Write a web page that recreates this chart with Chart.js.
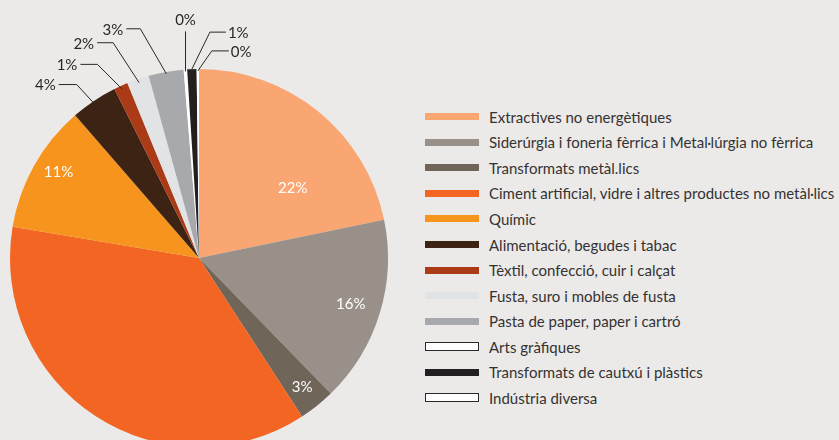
<!DOCTYPE html>
<html>
<head>
<meta charset="utf-8">
<title>Sectors</title>
<script src="https://cdn.jsdelivr.net/npm/chart.js"></script>
<style>
    body { margin: 0; background: #ebeae8; width: 839px; height: 440px; overflow: hidden; position: relative; font-family: Lato, sans-serif; }
    #pie-wrap { position: absolute; left: 0; top: 0; width: 420px; height: 500px; }
    #legend { position: absolute; left: 425px; top: 104px; list-style: none; margin: 0; padding: 0; }
    #legend li { height: 25.55px; display: flex; align-items: center; font-size: 15px; color: #353233; white-space: nowrap; }
    #legend .box { width: 54px; height: 7px; margin-right: 10px; box-sizing: border-box; flex: none; }
    #legend .box.outline { height: 9px; border: 1.5px solid #2b2728; }
</style>
</head>
<body>

<div id="pie-wrap"><canvas id="pie-chart" width="420" height="500"></canvas></div>
<ul id="legend"></ul>

<script>
    // sectors, share of total (%)
    var sectors = [
        "Extractives no energètiques",
        "Siderúrgia i foneria fèrrica i Metal·lúrgia no fèrrica",
        "Transformats metàl.lics",
        "Ciment artificial, vidre i altres productes no metàl·lics",
        "Químic",
        "Alimentació, begudes i tabac",
        "Tèxtil, confecció, cuir i calçat",
        "Fusta, suro i mobles de fusta",
        "Pasta de paper, paper i cartró",
        "Arts gràfiques",
        "Transformats de cautxú i plàstics",
        "Indústria diversa"
    ];
    var shares = [21.8, 16.0, 3.1, 36.9, 11.0, 4.0, 1.2, 1.9, 3.0, 0.3, 0.8, 0.2];
    var colors = ["#f9a672", "#999089", "#6f6559", "#f26522", "#f7941d", "#3c2314",
                  "#ab3a17", "#e2e3e5", "#a8a9ac", "#ffffff", "#231f20", "#ffffff"];
    var outlined = [false, false, false, false, false, false, false, false, false, true, false, true];

    // where each percentage goes: inside the slice, or on a leader line
    var insideLabels = { 0: {r: 0.62, shift: 14}, 1: {r: 0.84, shift: 0}, 2: {r: 0.875, shift: 0}, 4: {r: 0.87, shift: 2} };
    var callouts = {
        5:  {r: 0.945, dx: -23, dy: -25, tail: -18},
        6:  {r: 0.98,  dx: -25, dy: -25, tail: -17},
        7:  {r: 0.98,  dx: -26, dy: -40, tail: -16},
        8:  {r: 0.99,  dx: -26, dy: -45, tail: -14},
        9:  {r: 0.99,  dx: 0,   dy: -40, tail: 0},
        10: {r: 1.0,   dx: 18,  dy: -37, tail: 16},
        11: {r: 0.99,  dx: 14,  dy: -20, tail: 17}
    };

    var pieLabels = {
        id: 'pieLabels',
        afterDatasetsDraw: function (chart) {
            var ctx = chart.ctx;
            var arcs = chart.getDatasetMeta(0).data;
            ctx.save();
            ctx.font = '15px Lato, sans-serif';
            arcs.forEach(function (arc, i) {
                var p = arc.getProps(['x', 'y', 'startAngle', 'endAngle', 'outerRadius'], true);
                var mid = (p.startAngle + p.endAngle) / 2;
                var txt = Math.round(shares[i]) + '%';
                if (insideLabels[i]) {
                    var a = mid + insideLabels[i].shift * Math.PI / 180;
                    var rr = p.outerRadius * insideLabels[i].r;
                    ctx.fillStyle = '#ffffff';
                    ctx.textAlign = 'center';
                    ctx.textBaseline = 'middle';
                    ctx.fillText(txt, p.x + Math.cos(a) * rr, p.y + Math.sin(a) * rr);
                }
                var c = callouts[i];
                if (c) {
                    var x0 = p.x + Math.cos(mid) * p.outerRadius * c.r;
                    var y0 = p.y + Math.sin(mid) * p.outerRadius * c.r;
                    var x1 = x0 + c.dx, y1 = y0 + c.dy;
                    var x2 = x1 + c.tail;
                    ctx.strokeStyle = '#2b2728';
                    ctx.lineWidth = 1;
                    ctx.beginPath();
                    ctx.moveTo(x0, y0);
                    ctx.lineTo(x1, y1);
                    ctx.lineTo(x2, y1);
                    ctx.stroke();
                    ctx.fillStyle = '#2b2728';
                    ctx.textBaseline = 'middle';
                    if (c.tail < 0) {
                        ctx.textAlign = 'right';
                        ctx.fillText(txt, x2 - 3, y1 + 1);
                    } else if (c.tail > 0) {
                        ctx.textAlign = 'left';
                        ctx.fillText(txt, x2 + 2, y1 + 1);
                    } else {
                        ctx.textAlign = 'center';
                        ctx.fillText(txt, x1, y1 - 11);
                    }
                }
            });
            ctx.restore();
        }
    };

    var chart = document.getElementById('pie-chart').getContext('2d');
    var myPieChart = new Chart(chart, {
        type: 'pie',
        data: {
            labels: sectors,
            datasets: [{
                data: shares,
                backgroundColor: colors,
                borderWidth: 0
            }]
        },
        options: {
            responsive: false,
            animation: false,
            layout: { padding: { left: 10, top: 69, right: 32, bottom: 53 } },
            plugins: {
                legend: { display: false },
                tooltip: { enabled: false }
            }
        },
        plugins: [pieLabels]
    });

    // legend on the right
    var legend = document.getElementById('legend');
    for (var i = 0; i < sectors.length; i++) {
        var li = document.createElement('li');
        var box = document.createElement('span');
        box.className = outlined[i] ? 'box outline' : 'box';
        box.style.background = colors[i];
        li.appendChild(box);
        li.appendChild(document.createTextNode(sectors[i]));
        legend.appendChild(li);
    }
</script>
</body>
</html>
